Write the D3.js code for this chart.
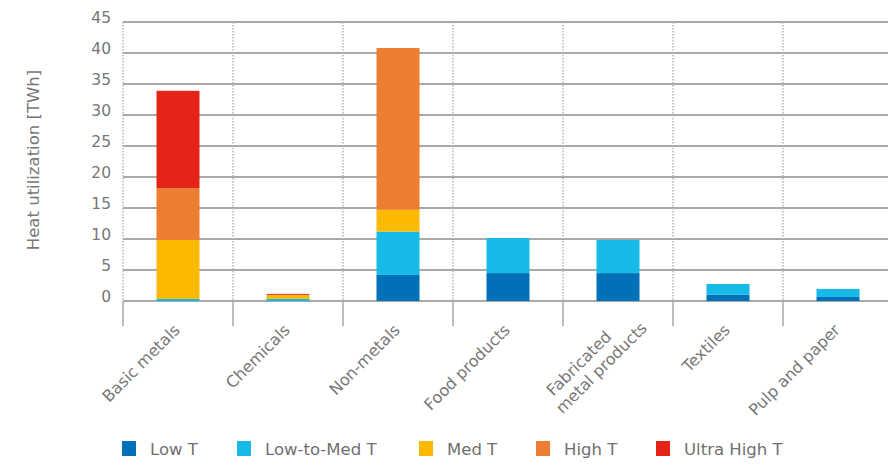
<!DOCTYPE html>
<html>
<head>
<meta charset="utf-8">
<script src="https://cdn.jsdelivr.net/npm/d3@7"></script>
<style>
body { margin: 0; background: #fff; }
text { font-family: "DejaVu Sans", sans-serif; fill: #777; }
</style>
</head>
<body>
<svg width="888" height="464"></svg>
<script>
var svg = d3.select("svg");

// data
var categories = ["Basic metals", "Chemicals", "Non-metals", "Food products",
	"Fabricated metal products", "Textiles", "Pulp and paper"];
var seriesNames = ["Low T", "Low-to-Med T", "Med T", "High T", "Ultra High T"];
var lowT = [0, 0, 4.2, 4.5, 4.5, 1.0, 0.65];
var lowMedT = [0.35, 0.35, 7.0, 5.65, 5.35, 1.75, 1.3];
var medT = [9.5, 0.6, 3.5, 0, 0, 0, 0];
var highT = [8.35, 0.05, 26.1, 0, 0, 0, 0];
var ultraHighT = [15.7, 0.15, 0, 0, 0, 0, 0];
var yTicks = [0, 5, 10, 15, 20, 25, 30, 35, 40, 45];
var colors = ["#0070b8", "#17b9e6", "#fbb900", "#ed7d31", "#e32416"];

var rows = categories.map(function (c, i) {
	return {
		cat: c,
		"Low T": lowT[i],
		"Low-to-Med T": lowMedT[i],
		"Med T": medT[i],
		"High T": highT[i],
		"Ultra High T": ultraHighT[i]
	};
});

var pLeft = 123, pRight = 893, pTop = 22, pBottom = 301;

var x = d3.scaleBand().domain(categories).range([pLeft, pRight]).paddingInner(0).paddingOuter(0);
var y = d3.scaleLinear().domain([0, 45]).range([pBottom, pTop]);
var color = d3.scaleOrdinal().domain(seriesNames).range(colors);

// horizontal gridlines
svg.append("g")
	.selectAll("line")
	.data(yTicks)
	.enter().append("line")
	.attr("x1", pLeft)
	.attr("x2", 888)
	.attr("y1", function (d) { return y(d); })
	.attr("y2", function (d) { return y(d); })
	.style("stroke", "#a9a9a9")
	.style("stroke-width", 2);

// dotted vertical separators
var bounds = categories.map(function (c) { return x(c); });
svg.append("g")
	.selectAll("line")
	.data(bounds)
	.enter().append("line")
	.attr("x1", function (d) { return d; })
	.attr("x2", function (d) { return d; })
	.attr("y1", pTop)
	.attr("y2", pBottom)
	.style("stroke", "#b5b5b5")
	.style("stroke-width", 1.5)
	.style("stroke-dasharray", "1.5,1.5");

// solid ticks below axis
svg.append("g")
	.selectAll("line")
	.data(bounds)
	.enter().append("line")
	.attr("x1", function (d) { return d; })
	.attr("x2", function (d) { return d; })
	.attr("y1", pBottom)
	.attr("y2", pBottom + 25)
	.style("stroke", "#a9a9a9")
	.style("stroke-width", 1.5);

// stacked bars
var stack = d3.stack().keys(seriesNames);
var series = stack(rows);
var barW = 43;

svg.append("g")
	.selectAll("g")
	.data(series)
	.enter().append("g")
	.style("fill", function (d) { return color(d.key); })
	.selectAll("rect")
	.data(function (d) { return d; })
	.enter().append("rect")
	.attr("x", function (d) { return x(d.data.cat) + x.bandwidth() / 2 - barW / 2; })
	.attr("width", barW)
	.attr("y", function (d) { return y(d[1]); })
	.attr("height", function (d) { return y(d[0]) - y(d[1]); });

// y tick labels
svg.append("g")
	.selectAll("text")
	.data(yTicks)
	.enter().append("text")
	.attr("x", 111)
	.attr("y", function (d) { return y(d) + 1; })
	.attr("text-anchor", "end")
	.style("font-size", "15.5px")
	.text(function (d) { return d; });

// y axis title
svg.append("text")
	.attr("transform", "translate(39,160) rotate(-90)")
	.attr("text-anchor", "middle")
	.style("font-size", "16.5px")
	.text("Heat utilization [TWh]");

// x labels
var xl = svg.append("g")
	.selectAll("text")
	.data(categories)
	.enter().append("text")
	.style("font-size", "16px");

xl.each(function (d) {
	var t = d3.select(this);
	var cx = x(d) + x.bandwidth() / 2;
	if (d === "Fabricated metal products") {
		var l1 = t.append("tspan").text("Fabricated");
		var l2 = t.append("tspan").text("metal products");
		var w2 = l2.node().getComputedTextLength();
		t.attr("text-anchor", "start")
			.attr("transform", "translate(" + (cx + 30) + ",329) rotate(-45)");
		l1.attr("x", -w2 + 6).attr("y", -19);
		l2.attr("x", -w2).attr("y", 0);
	} else {
		t.attr("text-anchor", "end")
			.attr("transform", "translate(" + (cx + 3) + ",331) rotate(-45)")
			.text(d);
	}
});

// legend
var legendX = [122, 237, 419, 536, 656];
var leg = svg.append("g")
	.selectAll("g")
	.data(seriesNames)
	.enter().append("g")
	.attr("transform", function (d, i) { return "translate(" + legendX[i] + ",441)"; });

leg.append("rect")
	.attr("width", 14)
	.attr("height", 15)
	.style("fill", function (d) { return color(d); });

leg.append("text")
	.attr("x", 28)
	.attr("y", 14)
	.style("font-size", "16.5px")
	.style("fill", "#6f6f6f")
	.text(function (d) { return d; });
</script>
</body>
</html>
